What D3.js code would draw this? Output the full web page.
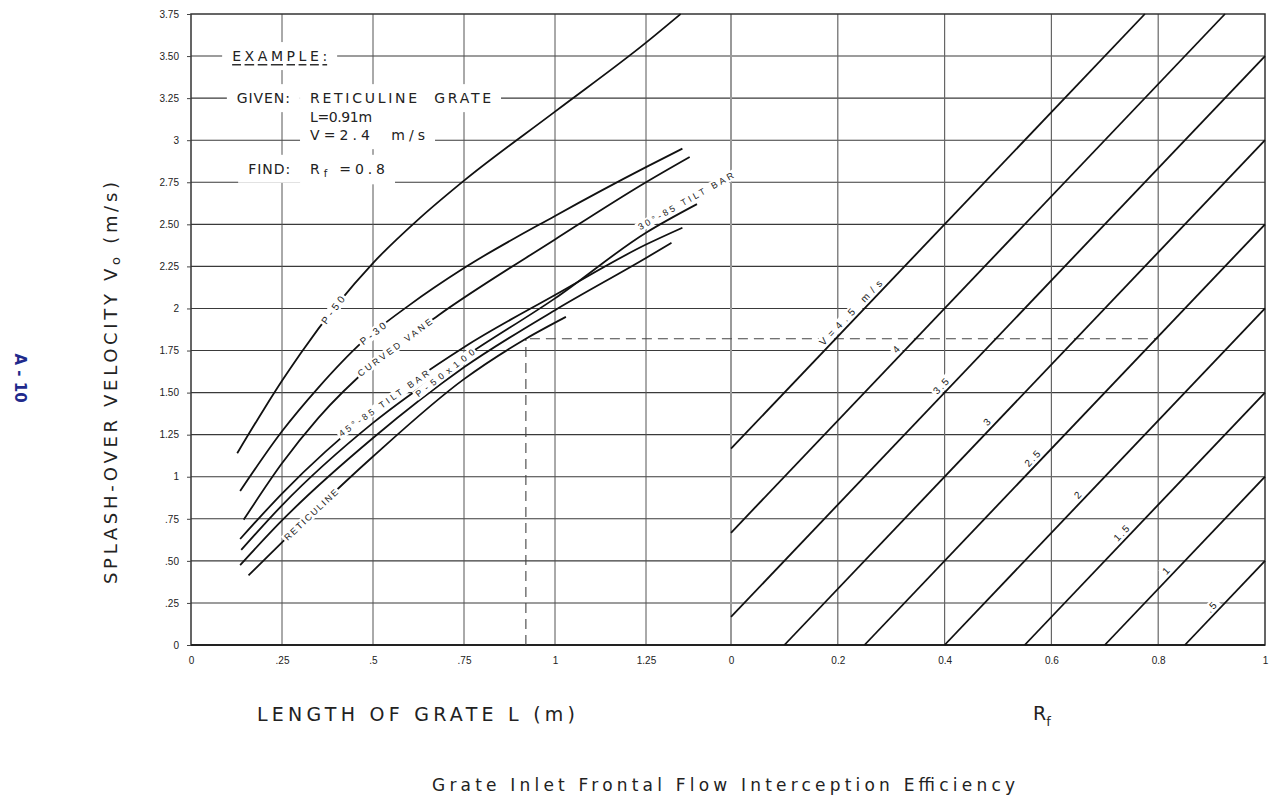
<!DOCTYPE html>
<html>
<head>
<meta charset="utf-8">
<script src="https://cdn.jsdelivr.net/npm/d3@7"></script>
<style>
body { margin: 0; background: #fff; }
text { font-family: "DejaVu Sans", "Liberation Sans", sans-serif; fill: #222; }
</style>
</head>
<body>
<div id="chart"></div>
<script>
var w = 1269, h = 801;

// axis ticks
var lTicks = [0, .25, .5, .75, 1, 1.25];
var lTickLabels = ["0", ".25", ".5", ".75", "1", "1.25"];
var rfTicks = [0, .2, .4, .6, .8, 1];
var rfTickLabels = ["0", "0.2", "0.4", "0.6", "0.8", "1"];
var voTicks = [0, .25, .5, .75, 1, 1.25, 1.5, 1.75, 2, 2.25, 2.5, 2.75, 3, 3.25, 3.5, 3.75];
var voTickLabels = ["0", ".25", ".50", ".75", "1", "1.25", "1.50", "1.75", "2", "2.25", "2.50", "2.75", "3", "3.25", "3.50", "3.75"];

// grate curves, [L (m), Vo (m/s)]
var p50 = [[0.127,1.14],[0.2,1.40],[0.25,1.57],[0.3,1.73],[0.4,2.02],[0.5,2.27],[0.63,2.54],[0.75,2.76],[1.0,3.17],[1.25,3.58],[1.345,3.75]];
var p30 = [[0.135,0.915],[0.25,1.27],[0.35,1.53],[0.47,1.8],[0.6,2.02],[0.75,2.24],[1.0,2.55],[1.25,2.84],[1.35,2.95]];
var curvedVane = [[0.145,0.745],[0.25,1.08],[0.35,1.35],[0.5,1.67],[0.68,1.96],[1.0,2.41],[1.25,2.75],[1.37,2.9]];
var tilt45 = [[0.135,0.63],[0.25,0.9],[0.5,1.39],[0.75,1.77],[1.0,2.08],[1.25,2.38],[1.35,2.48]];
var tilt30 = [[0.138,0.565],[0.25,0.83],[0.5,1.32],[0.75,1.71],[1.0,2.06],[1.25,2.45],[1.39,2.62]];
var p50x100 = [[0.135,0.475],[0.25,0.74],[0.5,1.23],[0.75,1.65],[1.0,1.99],[1.25,2.3],[1.32,2.39]];
var reticuline = [[0.158,0.414],[0.25,0.61],[0.5,1.12],[0.75,1.58],[0.92,1.82],[1.03,1.95]];

var curveNames = ["P-50", "P-30", "CURVED VANE", "45°-85 TILT BAR", "30°-85 TILT BAR", "P-50x100", "RETICULINE"];
var curveLabelL = [0.39, 0.5, 0.56, 0.53, 1.37, 0.71, 0.33];

// approach velocity lines, [Rf, Vo] end points
var vNames = ["V=4.5 m/s", "4", "3.5", "3", "2.5", "2", "1.5", "1", ".5"];
var vStart = [[0,1.167],[0,0.667],[0,0.167],[0.1,0],[0.25,0],[0.4,0],[0.55,0],[0.7,0],[0.85,0]];
var vEnd = [[0.775,3.75],[0.925,3.75],[1,3.5],[1,3],[1,2.5],[1,2],[1,1.5],[1,1],[1,0.5]];
var vLabelRf = [0.235, 0.32, 0.404, 0.49, 0.575, 0.66, 0.742, 0.825, 0.91];

// worked example
var exampleL = 0.92, exampleVo = 1.82, exampleRf = 0.8;

var svg = d3.select("#chart")
    .append("svg")
      .attr("width", w)
      .attr("height", h)
      .style("background", "#fff");

var xL = d3.scaleLinear().domain([0, 1.25]).range([191, 646]);
var xR = d3.scaleLinear().domain([0, 1]).range([731, 1265]);
var y = d3.scaleLinear().domain([0, 3.75]).range([645, 14]);

// grid
var grid = svg.append("g");
grid.selectAll(".hg").data(voTicks.slice(1, -1)).enter().append("line")
    .attr("x1", xL(0)).attr("x2", xR(1))
    .attr("y1", function(d) { return y(d); }).attr("y2", function(d) { return y(d); })
    .attr("stroke", "#3a3a3a").attr("stroke-width", 1.1);
grid.selectAll(".vl").data(lTicks.slice(1)).enter().append("line")
    .attr("x1", function(d) { return xL(d); }).attr("x2", function(d) { return xL(d); })
    .attr("y1", y(0)).attr("y2", y(3.75))
    .attr("stroke", "#555").attr("stroke-width", 1);
grid.selectAll(".vr").data(rfTicks.slice(1, -1)).enter().append("line")
    .attr("x1", function(d) { return xR(d); }).attr("x2", function(d) { return xR(d); })
    .attr("y1", y(0)).attr("y2", y(3.75))
    .attr("stroke", "#666").attr("stroke-width", 1.2);
grid.append("line")
    .attr("x1", xR(0)).attr("x2", xR(0)).attr("y1", y(0)).attr("y2", y(3.75))
    .attr("stroke", "#999").attr("stroke-width", 2);

// frame
svg.append("rect")
    .attr("x", xL(0)).attr("y", y(3.75))
    .attr("width", xR(1) - xL(0)).attr("height", y(0) - y(3.75))
    .attr("fill", "none").attr("stroke", "#333").attr("stroke-width", 1.5);
svg.append("line").attr("x1", xL(0)).attr("x2", xR(1)).attr("y1", y(0)).attr("y2", y(0))
    .attr("stroke", "#222").attr("stroke-width", 2);

// axes
var yAxis = svg.append("g").attr("transform", "translate(" + xL(0) + ",0)")
    .call(d3.axisLeft(y).tickValues(voTicks).tickFormat(function(d, i) { return voTickLabels[i]; }).tickSize(4).tickPadding(8));
var lAxis = svg.append("g").attr("transform", "translate(0," + y(0) + ")")
    .call(d3.axisBottom(xL).tickValues(lTicks).tickFormat(function(d, i) { return lTickLabels[i]; }).tickSize(0).tickPadding(12));
var rAxis = svg.append("g").attr("transform", "translate(0," + y(0) + ")")
    .call(d3.axisBottom(xR).tickValues(rfTicks).tickFormat(function(d, i) { return rfTickLabels[i]; }).tickSize(0).tickPadding(12));
[yAxis, lAxis, rAxis].forEach(function(a) {
  a.select(".domain").remove();
  a.selectAll("line").attr("stroke", "#444");
  a.selectAll("text").attr("font-size", 10).attr("fill", "#333")
    .style("font-family", "'Liberation Sans', sans-serif");
});

// worked example dashes
var dash = svg.append("g").attr("stroke", "#444").attr("stroke-width", 1.1).attr("stroke-dasharray", "10,6");
dash.append("line").attr("x1", xL(exampleL)).attr("x2", xL(exampleL)).attr("y1", y(0)).attr("y2", y(exampleVo));
dash.append("line").attr("x1", xL(exampleL) + 4).attr("x2", xR(exampleRf)).attr("y1", y(exampleVo)).attr("y2", y(exampleVo));

// grate curves
var curves = [p50, p30, curvedVane, tilt45, tilt30, p50x100, reticuline];
var line = d3.line()
    .x(function(d) { return xL(d[0]); })
    .y(function(d) { return y(d[1]); })
    .curve(d3.curveMonotoneX);
svg.append("g").selectAll("path").data(curves).enter().append("path")
    .attr("d", line)
    .attr("fill", "none").attr("stroke", "#111").attr("stroke-width", 1.8);

// velocity lines
svg.append("g").selectAll("line").data(vStart).enter().append("line")
    .attr("x1", function(d) { return xR(d[0]); })
    .attr("y1", function(d) { return y(d[1]); })
    .attr("x2", function(d, i) { return xR(vEnd[i][0]); })
    .attr("y2", function(d, i) { return y(vEnd[i][1]); })
    .attr("stroke", "#111").attr("stroke-width", 1.8);

// label with white box, rotated
function tag(x, yy, angle, txt, size, len, spacing, shift) {
  var g = svg.append("g").attr("transform", "translate(" + x + "," + yy + ") rotate(" + angle + ")");
  var r = g.append("rect").attr("fill", "#fff");
  var t = g.append("text")
      .attr("x", 0).attr("y", shift || 0)
      .attr("text-anchor", "middle").attr("dominant-baseline", "central")
      .attr("font-size", size).attr("fill", "#222")
      .style("font-family", "'Liberation Sans', sans-serif")
      .style("letter-spacing", spacing + "px")
      .text(txt);
  if (len) t.attr("textLength", len).attr("lengthAdjust", "spacing");
  var b = t.node().getBBox();
  r.attr("x", b.x - 2).attr("y", b.y).attr("width", b.width + 4).attr("height", b.height);
  return t;
}

function onCurve(c, l) {
  var i = 1;
  while (i < c.length - 1 && c[i][0] < l) i++;
  var a = c[i - 1], b = c[i];
  var t = (l - a[0]) / (b[0] - a[0]);
  var px = xL(a[0] + t * (b[0] - a[0])), py = y(a[1] + t * (b[1] - a[1]));
  var ang = Math.atan2(y(b[1]) - y(a[1]), xL(b[0]) - xL(a[0])) * 180 / Math.PI;
  return [px, py, ang];
}

var curveLabelLen = [32, 30, 90, 108, 108, 72, 70];
var curveLabelSize = [10, 10, 9, 9, 9, 9, 9];
var curveShift = [0, 0, 0, 0, -8, -7, 0];
curves.forEach(function(c, i) {
  var p = onCurve(c, curveLabelL[i]);
  tag(p[0], p[1], p[2], curveNames[i], curveLabelSize[i], curveLabelLen[i], 0, curveShift[i]);
});

vStart.forEach(function(s, i) {
  var e = vEnd[i];
  var t = (vLabelRf[i] - s[0]) / (e[0] - s[0]);
  var px = xR(vLabelRf[i]), py = y(s[1] + t * (e[1] - s[1]));
  var ang = Math.atan2(y(e[1]) - y(s[1]), xR(e[0]) - xR(s[0])) * 180 / Math.PI;
  tag(px, py, ang, vNames[i], 10, i ? 0 : 88, 2, -7);
});

// example text block: white boxes first, then the text
var noteBack = svg.append("g"), noteFront = svg.append("g");
function note(l, vo, txt, len, extra) {
  var r = noteBack.append("rect").attr("fill", "#fff");
  var t = noteFront.append("text").attr("x", xL(l)).attr("y", y(vo))
      .attr("dominant-baseline", "central").attr("font-size", 14)
      .attr("textLength", len).attr("lengthAdjust", "spacing")
      .style("white-space", "pre")
      .style("font-family", "'DejaVu Sans', sans-serif");
  if (extra) extra(t); else t.text(txt);
  var b = t.node().getBBox();
  r.attr("x", b.x - 10).attr("y", b.y - 6).attr("width", b.width + 20).attr("height", b.height + 12);
  return t;
}
note(0.113, 3.5, "EXAMPLE:", 95).style("text-decoration", "underline");
note(0.126, 3.25, "GIVEN:", 53);
note(0.327, 3.25, "RETICULINE  GRATE", 181);
note(0.327, 3.14, "L=0.91m", 62);
note(0.327, 3.03, "V=2.4  m/s", 115);
note(0.157, 2.83, "FIND:", 42);
note(0.327, 2.83, null, 75, function(t) {
  t.append("tspan").text("R");
  t.append("tspan").attr("font-size", 10).attr("dy", 4).text("f");
  t.append("tspan").attr("dy", -4).text(" =0.8");
});

// axis titles
var yt = svg.append("text")
    .attr("transform", "translate(110,383) rotate(-90)")
    .attr("text-anchor", "middle").attr("dominant-baseline", "central")
    .attr("font-size", 18).attr("textLength", 402).attr("lengthAdjust", "spacing");
yt.append("tspan").text("SPLASH-OVER VELOCITY V");
yt.append("tspan").attr("font-size", 13).attr("dy", 5).text("o");
yt.append("tspan").attr("dy", -5).text(" (m/s)");

svg.append("text")
    .attr("x", 257).attr("y", 721)
    .attr("font-size", 19).attr("textLength", 318).attr("lengthAdjust", "spacing")
    .text("LENGTH OF GRATE L (m)");

var rf = svg.append("text").attr("x", 1033).attr("y", 720).attr("font-size", 19);
rf.append("tspan").text("R");
rf.append("tspan").attr("font-size", 13).attr("dy", 6).text("f");

svg.append("text")
    .attr("x", 432).attr("y", 791)
    .attr("font-size", 17).attr("textLength", 583).attr("lengthAdjust", "spacing")
    .text("Grate Inlet Frontal Flow Interception Efficiency");

svg.append("text")
    .attr("transform", "translate(20,378) rotate(90)")
    .attr("text-anchor", "middle").attr("dominant-baseline", "central")
    .attr("font-size", 15).attr("font-weight", "bold")
    .style("fill", "#1f2a8c")
    .text("A - 10");
</script>
</body>
</html>
